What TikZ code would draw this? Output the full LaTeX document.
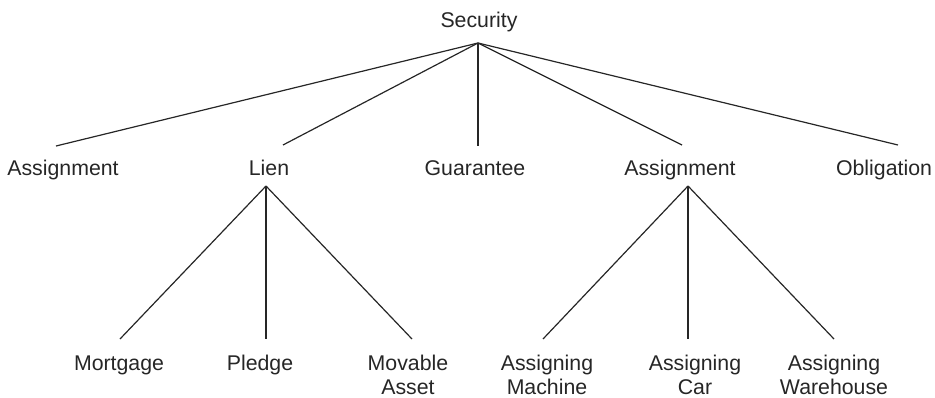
\documentclass[tikz,border=0pt]{standalone}
\usepackage{fontspec}
\setmainfont{Liberation Sans}
\begin{document}
\begin{tikzpicture}[x=1pt,y=-1pt,
  label/.style={font=\fontsize{21.3}{24}\selectfont, anchor=base, inner sep=0pt, align=center, text=black!85},
  edge/.style={line width=1.2pt, black!85}]
\useasboundingbox (0,0) rectangle (935,397);

% labels (two-line labels are placed by the baseline of their last line)
\node[label] (sec) at (479,27) {Security};
\node[label] (asg1) at (63,175) {Assignment};
\node[label] (lien) at (269,175) {Lien};
\node[label] (guar) at (475,175) {Guarantee};
\node[label] (asg2) at (680,175) {Assignment};
\node[label] (obl) at (884,175) {Obligation};
\node[label] (mort) at (119,370) {Mortgage};
\node[label] (pled) at (260,370) {Pledge};
\node[label] (mova) at (408,394) {Movable\\Asset};
\node[label] (amac) at (547,394) {Assigning\\Machine};
\node[label] (acar) at (695,394) {Assigning\\Car};
\node[label] (awar) at (834,394) {Assigning\\Warehouse};

% branch points and line ends
\coordinate (secb) at (478,43);
\coordinate (asg1t) at (56,146);
\coordinate (lient) at (283,145);
\coordinate (guart) at (478,146);
\coordinate (asg2t) at (682,145);
\coordinate (oblt) at (898,145);
\coordinate (lienb) at (266,186);
\coordinate (asg2b) at (688,186);
\coordinate (mortt) at (120,339);
\coordinate (pledt) at (266,339);
\coordinate (movat) at (412,339);
\coordinate (amact) at (543,339);
\coordinate (acart) at (688,339);
\coordinate (awart) at (834,339);

% connectors
\foreach \t in {asg1t,lient,guart,asg2t,oblt}
  \draw[edge] (secb) -- (\t);
\foreach \t in {mortt,pledt,movat}
  \draw[edge] (lienb) -- (\t);
\foreach \t in {amact,acart,awart}
  \draw[edge] (asg2b) -- (\t);
\end{tikzpicture}
\end{document}
